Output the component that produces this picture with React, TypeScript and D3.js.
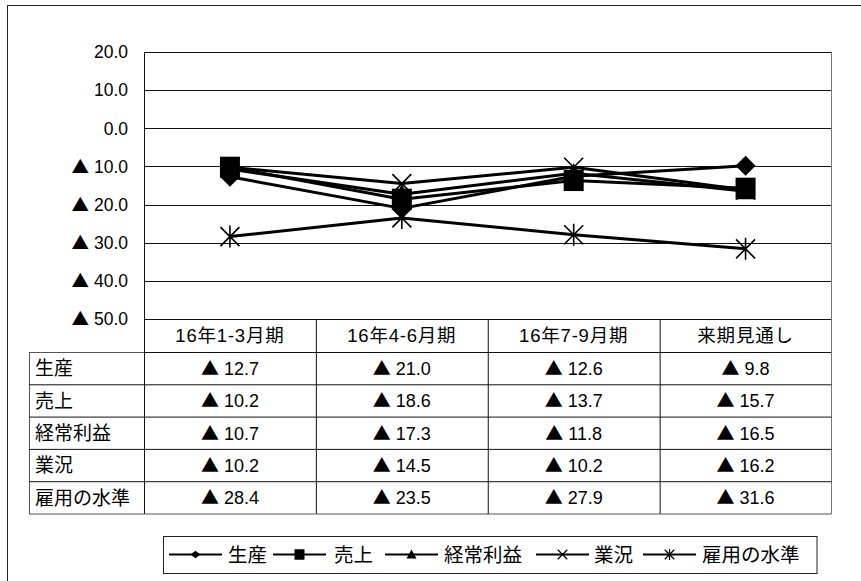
import React from "react";
import * as d3 from "d3";

const categories = ["16年1-3月期", "16年4-6月期", "16年7-9月期", "来期見通し"];
const seriesNames = ["生産", "売上", "経常利益", "業況", "雇用の水準"];
const seisan = [-12.7, -21.0, -12.6, -9.8];
const uriage = [-10.2, -18.6, -13.7, -15.7];
const keijoRieki = [-10.7, -17.3, -11.8, -16.5];
const gyokyo = [-10.2, -14.5, -10.2, -16.2];
const koyo = [-28.4, -23.5, -27.9, -31.6];
const seriesValues = [seisan, uriage, keijoRieki, gyokyo, koyo];
const markerTypes = ["diamond", "square", "triangle", "x", "asterisk"];
const yTicks = [20, 10, 0, -10, -20, -30, -40, -50];

const FONT = '"Liberation Sans", "Noto Sans CJK JP", sans-serif';
const CJK = '"Noto Sans CJK JP", sans-serif';

function Num({ v }: { v: number }) {
  if (v >= 0) return <>{v.toFixed(1)}</>;
  return (
    <>
      <tspan fontFamily={CJK}>▲</tspan>
      <tspan> {(-v).toFixed(1)}</tspan>
    </>
  );
}

function Marker({ type, cx, cy, r, legend }: { type: string; cx: number; cy: number; r: number; legend?: boolean }) {
  if (type === "diamond") {
    const rx = r, ry = legend ? r * 0.75 : r;
    return <path d={`M${cx},${cy - ry}L${cx + rx},${cy}L${cx},${cy + ry}L${cx - rx},${cy}Z`} fill="#000" />;
  }
  if (type === "square") {
    return <rect x={cx - r} y={cy - r * 1.05} width={2 * r} height={2.1 * r} fill="#000" />;
  }
  if (type === "triangle") {
    return <path d={`M${cx},${cy - r}L${cx + r},${cy + r * 0.8}L${cx - r},${cy + r * 0.8}Z`} fill="#000" />;
  }
  const k = r * 0.95;
  const sw = legend ? 1.3 : 1.6;
  const xs = `M${cx - k},${cy - k}L${cx + k},${cy + k}M${cx - k},${cy + k}L${cx + k},${cy - k}`;
  if (type === "x") {
    return <path d={xs} stroke="#000" strokeWidth={sw} fill="none" />;
  }
  return <path d={`${xs}M${cx},${cy - r * 1.1}L${cx},${cy + r * 1.1}`} stroke="#000" strokeWidth={sw} fill="none" />;
}

export default function App() {
  const W = 861, H = 581;
  const left = 144, right = 831.5, top = 52, bottom = 319;
  const x = d3.scaleBand<string>().domain(categories).range([left, right]).padding(0);
  const bw = x.bandwidth();
  const cxOf = (i: number) => (x(categories[i]) as number) + bw / 2;
  const y = d3.scaleLinear().domain([-50, 20]).range([bottom, top]);
  const line = d3
    .line<number>()
    .x((_, i) => cxOf(i))
    .y((d) => y(d));

  const headerBottom = 352.5;
  const rowH = 32.3;
  const labelLeft = 29;
  const tableBottom = headerBottom + rowH * seriesNames.length;

  const legendX0 = 163, legendX1 = 816.5, legendY0 = 536, legendY1 = 573;
  const legendMid = (legendY0 + legendY1) / 2;
  const legendItems = [
    { lx: 169, tx: 228 },
    { lx: 273, tx: 334 },
    { lx: 385, tx: 444 },
    { lx: 536, tx: 594 },
    { lx: 643, tx: 702 },
  ];
  const legendLineLen = 53;

  return (
    <svg width={W} height={H} style={{ position: "absolute", left: 0, top: 0, background: "#fff" }} fontFamily={FONT}>
      <rect x={0} y={0} width={W} height={H} fill="#fff" />
      <rect x={7.5} y={5.5} width={W + 20} height={H + 20} fill="none" stroke="#222" strokeWidth={1} />

      {yTicks.map((t) => (
        <line key={t} x1={left} x2={right} y1={Math.round(y(t)) + 0.5} y2={Math.round(y(t)) + 0.5} stroke="#111" strokeWidth={1} />
      ))}
      <line x1={left + 0.5} x2={left + 0.5} y1={top} y2={bottom} stroke="#111" />
      <line x1={right} x2={right} y1={top} y2={bottom} stroke="#777" />

      {yTicks.map((t) => (
        <text key={"l" + t} x={128} y={y(t)} dy="0.36em" textAnchor="end" fontSize={17.5} fill="#000">
          <Num v={t} />
        </text>
      ))}

      {seriesValues.map((vals, si) => (
        <path key={"s" + si} d={line(vals) || ""} fill="none" stroke="#000" strokeWidth={3} strokeLinejoin="round" />
      ))}
      {seriesValues.map((vals, si) =>
        vals.map((v, i) => <Marker key={`m${si}-${i}`} type={markerTypes[si]} cx={cxOf(i)} cy={y(v)} r={10} />)
      )}

      <line x1={left} x2={right} y1={headerBottom} y2={headerBottom} stroke="#111" />
      {categories.map((c, i) => (
        <text key={"h" + c} x={cxOf(i)} y={(bottom + headerBottom) / 2} dy="0.36em" textAnchor="middle" fontSize={18.5} letterSpacing={0.8} fill="#000">
          {c}
        </text>
      ))}
      {categories.map((c, i) =>
        i === 0 ? null : (
          <line key={"v" + c} x1={(x(c) as number) + 0.5} x2={(x(c) as number) + 0.5} y1={bottom} y2={tableBottom} stroke="#111" />
        )
      )}
      <line x1={left + 0.5} x2={left + 0.5} y1={bottom} y2={tableBottom} stroke="#111" />
      <line x1={right} x2={right} y1={bottom} y2={tableBottom} stroke="#777" />
      <line x1={labelLeft + 0.5} x2={labelLeft + 0.5} y1={headerBottom} y2={tableBottom} stroke="#555" />
      <line x1={labelLeft} x2={left} y1={headerBottom} y2={headerBottom} stroke="#555" />

      {seriesNames.map((name, r) => {
        const y0 = headerBottom + rowH * r;
        const y1 = y0 + rowH;
        return (
          <g key={"r" + name}>
            <line x1={labelLeft} x2={right} y1={y1} y2={y1} stroke={r === seriesNames.length - 1 ? "#555" : "#111"} />
            <text x={35} y={(y0 + y1) / 2} dy="0.36em" fontSize={19} fontFamily={CJK} fill="#000">
              {name}
            </text>
            {seriesValues[r].map((v, i) => (
              <text key={i} x={cxOf(i)} y={(y0 + y1) / 2} dy="0.36em" textAnchor="middle" fontSize={18} fill="#000">
                <Num v={v} />
              </text>
            ))}
          </g>
        );
      })}

      <rect x={legendX0 + 0.5} y={legendY0 + 0.5} width={legendX1 - legendX0} height={legendY1 - legendY0} fill="#fff" stroke="#222" />
      {seriesNames.map((name, i) => {
        const it = legendItems[i];
        return (
          <g key={"lg" + name}>
            <line x1={it.lx} x2={it.lx + legendLineLen} y1={legendMid} y2={legendMid} stroke="#000" strokeWidth={2.2} />
            <Marker type={markerTypes[i]} cx={it.lx + legendLineLen / 2} cy={legendMid} r={5} legend />
            <text x={it.tx} y={legendMid} dy="0.36em" fontSize={19.5} fontFamily={CJK} fill="#000">
              {name}
            </text>
          </g>
        );
      })}
    </svg>
  );
}
